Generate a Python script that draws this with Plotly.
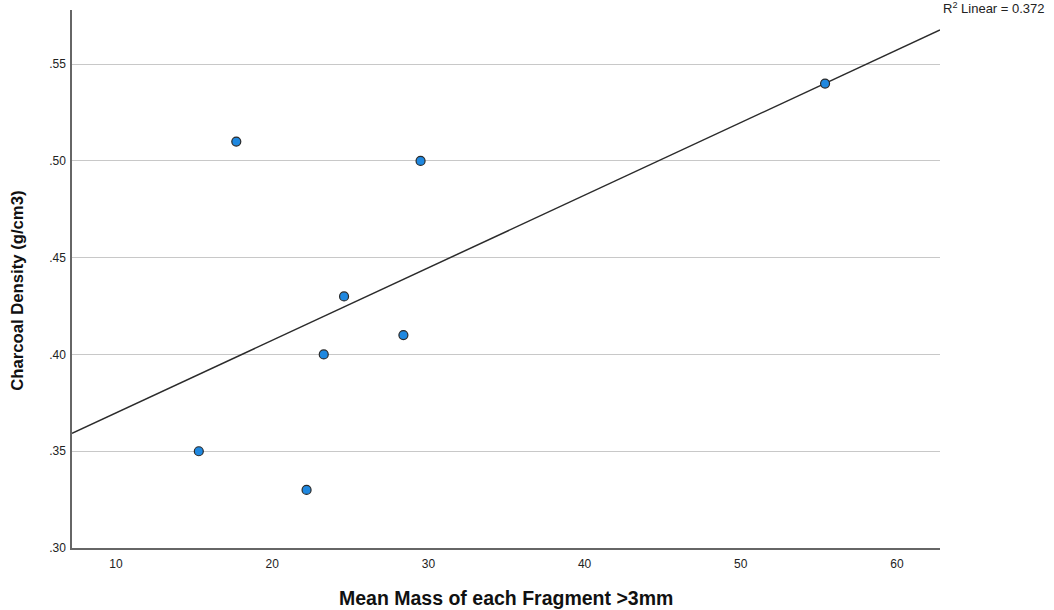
import numpy as np
import plotly.graph_objects as go

# Data
mean_mass = [15.3, 17.7, 22.2, 23.3, 24.6, 28.4, 29.5, 55.4]
density = [0.35, 0.51, 0.33, 0.40, 0.43, 0.41, 0.50, 0.54]

x_ticks = [10, 20, 30, 40, 50, 60]
y_ticks = [0.30, 0.35, 0.40, 0.45, 0.50, 0.55]
y_tick_labels = [".30", ".35", ".40", ".45", ".50", ".55"]
r2_label = "0.372"

x_range = [7.18, 62.76]
y_range = [0.30, 0.578]

# Linear fit line through the data
slope, intercept = np.polyfit(mean_mass, density, 1)
fit_x = np.array(x_range)
fit_y = slope * fit_x + intercept

fig = go.Figure()
fig.add_trace(go.Scatter(
    x=fit_x, y=fit_y, mode="lines",
    line=dict(color="#2b2b2b", width=1.5),
    hoverinfo="skip", showlegend=False,
))
fig.add_trace(go.Scatter(
    x=mean_mass, y=density, mode="markers",
    marker=dict(size=9, color="#1f88e0", line=dict(color="#2a2a2a", width=1.2)),
    showlegend=False,
))

font_family = "Liberation Sans, Arial, sans-serif"

fig.update_layout(
    width=1054, height=610,
    margin=dict(l=72, r=114, t=10, b=62),
    paper_bgcolor="white", plot_bgcolor="white",
    font=dict(family=font_family, size=12, color="#222222"),
    xaxis=dict(
        range=x_range, tickvals=x_ticks, showgrid=False, zeroline=False,
        showline=True, linecolor="#666666", linewidth=1.5, ticks="",
        ticklabelstandoff=4,
        tickfont=dict(size=12, color="#222222"),
    ),
    yaxis=dict(
        range=y_range, tickvals=y_ticks, ticktext=y_tick_labels,
        showgrid=True, gridcolor="#c8c8c8", gridwidth=1.2, zeroline=False,
        showline=True, linecolor="#666666", linewidth=1.5, ticks="",
        ticklabelstandoff=2,
        tickfont=dict(size=12, color="#222222"),
    ),
    annotations=[
        dict(text="R<sup>2</sup> Linear = " + r2_label, xref="paper", yref="paper",
             x=1.0, y=1.0, xanchor="left", yanchor="middle", xshift=1, yshift=2,
             showarrow=False, font=dict(size=13, color="#222222")),
        dict(text="<b>Mean Mass of each Fragment >3mm</b>", xref="paper", yref="paper",
             x=0.5, y=0, yanchor="middle", yshift=-50, showarrow=False,
             font=dict(size=19.5, color="#111111")),
        dict(text="<b>Charcoal Density (g/cm3)</b>", xref="paper", yref="paper",
             x=0, y=0.478, xanchor="center", yanchor="middle", xshift=-54, textangle=-90,
             showarrow=False, font=dict(size=16.7, color="#111111")),
    ],
)

fig.write_html("out.html", config={"displayModeBar": False},
               post_script="document.body.style.margin='0';")
